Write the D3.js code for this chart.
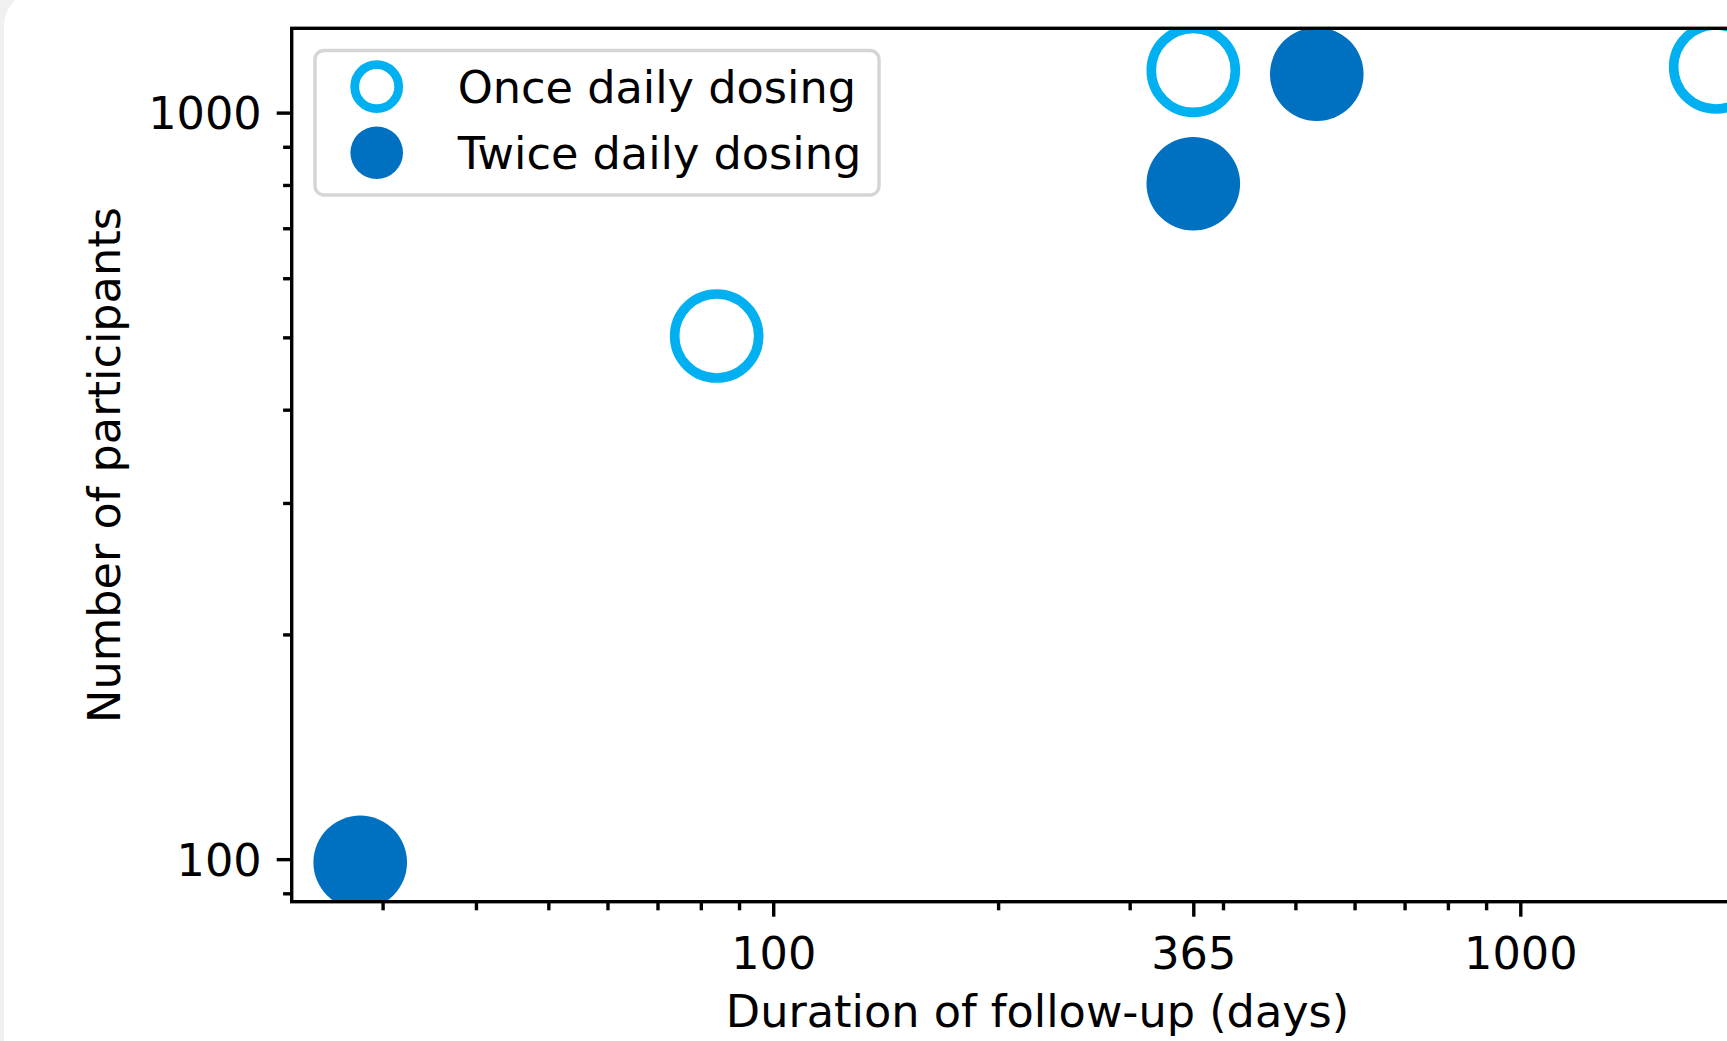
<!DOCTYPE html>
<html>
<head>
<meta charset="utf-8">
<script src="https://cdn.jsdelivr.net/npm/d3@7"></script>
<style>
  body { margin: 0; overflow: hidden; background: #f0f0f0; }
  svg { display: block; font-family: "DejaVu Sans", sans-serif; }
</style>
</head>
<body>
<svg></svg>
<script>
// data
var seriesNames = ["Once daily dosing", "Twice daily dosing"];
var onceDays = [84, 365, 1826];
var onceParticipants = [502, 1139, 1151];
var twiceDays = [28, 365, 534];
var twiceParticipants = [99, 803, 1126];

// ticks
var xMajorTicks = [100, 365, 1000];
var xMinorTicks = [30, 40, 50, 60, 70, 80, 90, 200, 300, 400, 500, 600, 700, 800, 900, 2000];
var yMajorTicks = [100, 1000];
var yMinorTicks = [90, 200, 300, 400, 500, 600, 700, 800, 900];

var width = 1727, height = 1041;
var plot = { left: 291.7, right: 1783.4, top: 28.3, bottom: 901.7 };
var fontSize = 44.6;
var lineW = 3.4;

var svg = d3.select("svg")
    .attr("width", width)
    .attr("height", height);

// page card background
svg.append("rect")
    .attr("width", width).attr("height", height)
    .attr("fill", "#f0f0f0");
svg.append("rect")
    .attr("x", 4).attr("y", -10)
    .attr("width", width + 50).attr("height", height + 50)
    .attr("rx", 36)
    .attr("fill", "#ffffff");

var x = d3.scaleLog()
    .domain([22.67, 2250])
    .range([plot.left, plot.right]);

var y = d3.scaleLog()
    .domain([87.7, 1297])
    .range([plot.bottom, plot.top]);

var color = d3.scaleOrdinal()
    .domain(seriesNames)
    .range(["#00B0F0", "#0070C0"]);

// clip markers to the axes box
svg.append("clipPath")
    .attr("id", "clip")
  .append("rect")
    .attr("x", plot.left).attr("y", plot.top)
    .attr("width", plot.right - plot.left)
    .attr("height", plot.bottom - plot.top);

var points = svg.append("g").attr("clip-path", "url(#clip)");

var onceData = onceDays.map(function(d, i) { return { x: d, y: onceParticipants[i] }; });
var twiceData = twiceDays.map(function(d, i) { return { x: d, y: twiceParticipants[i] }; });

points.selectAll("circle.once")
    .data(onceData)
  .enter().append("circle")
    .attr("class", "once")
    .attr("cx", function(d) { return x(d.x); })
    .attr("cy", function(d) { return y(d.y); })
    .attr("r", 42)
    .attr("fill", "#ffffff")
    .attr("stroke", color(seriesNames[0]))
    .attr("stroke-width", 9.6);

points.selectAll("circle.twice")
    .data(twiceData)
  .enter().append("circle")
    .attr("class", "twice")
    .attr("cx", function(d) { return x(d.x); })
    .attr("cy", function(d) { return y(d.y); })
    .attr("r", 46.8)
    .attr("fill", color(seriesNames[1]));

// axes: major ticks with labels, minor ticks without
var xAxis = d3.axisBottom(x)
    .tickValues(xMajorTicks)
    .tickFormat(d3.format("d"))
    .tickSize(15)
    .tickPadding(15);

var xMinor = d3.axisBottom(x)
    .tickValues(xMinorTicks)
    .tickFormat("")
    .tickSize(8.6);

var yAxis = d3.axisLeft(y)
    .tickValues(yMajorTicks)
    .tickFormat(d3.format("d"))
    .tickSize(15)
    .tickPadding(15);

var yMinor = d3.axisLeft(y)
    .tickValues(yMinorTicks)
    .tickFormat("")
    .tickSize(8.6);

function styleAxis(g) {
  g.select(".domain").remove();
  g.selectAll("line").attr("stroke", "#000").attr("stroke-width", lineW);
  g.selectAll("text")
      .attr("fill", "#000")
      .style("font-size", fontSize + "px")
      .style("font-family", "'DejaVu Sans', sans-serif");
}

svg.append("g")
    .attr("transform", "translate(0," + plot.bottom + ")")
    .call(xMinor).call(styleAxis);

svg.append("g")
    .attr("transform", "translate(0," + plot.bottom + ")")
    .call(xAxis).call(styleAxis)
  .selectAll("text")
    .attr("y", 67.5)
    .attr("dy", null);

svg.append("g")
    .attr("transform", "translate(" + plot.left + ",0)")
    .call(yMinor).call(styleAxis);

svg.append("g")
    .attr("transform", "translate(" + plot.left + ",0)")
    .call(yAxis).call(styleAxis)
  .selectAll("text")
    .attr("dy", "0.36em");

// spines
svg.append("rect")
    .attr("x", plot.left).attr("y", plot.top)
    .attr("width", plot.right - plot.left)
    .attr("height", plot.bottom - plot.top)
    .attr("fill", "none")
    .attr("stroke", "#000")
    .attr("stroke-width", lineW);

// axis titles
svg.append("text")
    .attr("x", (plot.left + plot.right) / 2)
    .attr("y", 1027)
    .attr("text-anchor", "middle")
    .style("font-size", fontSize + "px")
    .text("Duration of follow-up (days)");

svg.append("text")
    .attr("transform", "translate(120," + (plot.top + plot.bottom) / 2 + ") rotate(-90)")
    .attr("text-anchor", "middle")
    .style("font-size", fontSize + "px")
    .text("Number of participants");

// legend
var legend = svg.append("g")
    .attr("class", "legend");

legend.append("rect")
    .attr("x", 315).attr("y", 50.5)
    .attr("width", 564).attr("height", 144.5)
    .attr("rx", 9)
    .attr("fill", "#ffffff")
    .attr("stroke", "#d5d5d5")
    .attr("stroke-width", lineW);

var rows = legend.selectAll("g.row")
    .data(seriesNames)
  .enter().append("g")
    .attr("class", "row")
    .attr("transform", function(d, i) { return "translate(376.7," + (86.7 + i * 66) + ")"; });

rows.append("circle")
    .attr("r", function(d, i) { return i === 0 ? 22 : 26.3; })
    .attr("fill", function(d, i) { return i === 0 ? "#ffffff" : color(d); })
    .attr("stroke", function(d, i) { return i === 0 ? color(d) : "none"; })
    .attr("stroke-width", 8.8);

rows.append("text")
    .attr("x", 81)
    .attr("y", 16)
    .style("font-size", fontSize + "px")
    .text(function(d) { return d; });
</script>
</body>
</html>
